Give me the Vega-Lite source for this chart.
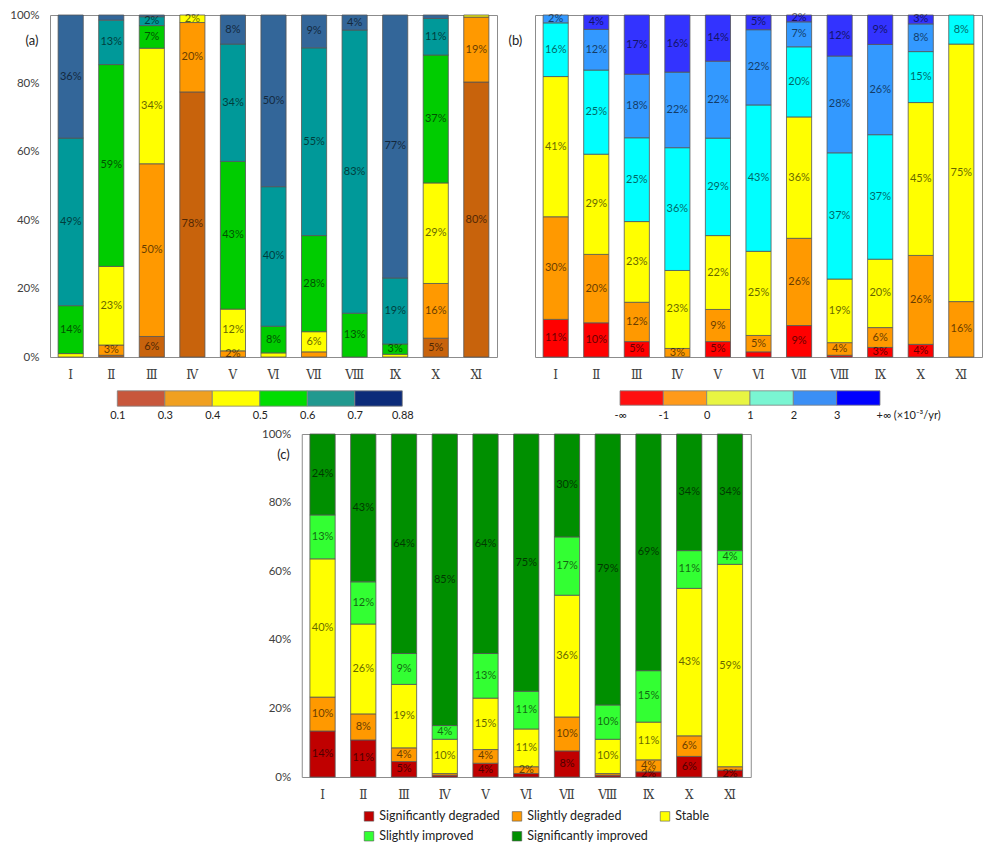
{
  "$schema": "https://vega.github.io/schema/vega-lite/v6.json",
  "background": "white",
  "autosize": "pad",
  "padding": {"left": 9, "top": 8, "right": 0, "bottom": 0},
  "center": true,
  "spacing": 7,
  "resolve": {"scale": {"color": "independent"}, "legend": {"color": "independent"}},
  "config": {
    "font": "Lato",
    "view": {"stroke": "#8c8c8c", "strokeWidth": 1},
    "axis": {"labelColor": "#404040", "labelFont": "Lato", "labelFontSize": 11.5, "domain": false, "ticks": false, "grid": false, "titleFont": "Lato", "titleFontSize": 13, "titleFontWeight": "normal", "titleColor": "#222"}
  },
  "datasets": {
    "a": [
      {"g":"Ⅰ","k":3,"v":1,"t":""},
      {"g":"Ⅰ","k":4,"v":14,"t":"14%"},
      {"g":"Ⅰ","k":5,"v":49,"t":"49%"},
      {"g":"Ⅰ","k":6,"v":36,"t":"36%"},
      {"g":"Ⅱ","k":1,"v":0.5,"t":""},
      {"g":"Ⅱ","k":2,"v":3,"t":"3%"},
      {"g":"Ⅱ","k":3,"v":23,"t":"23%"},
      {"g":"Ⅱ","k":4,"v":59,"t":"59%"},
      {"g":"Ⅱ","k":5,"v":13,"t":"13%"},
      {"g":"Ⅱ","k":6,"v":1.5,"t":""},
      {"g":"Ⅲ","k":1,"v":6,"t":"6%"},
      {"g":"Ⅲ","k":2,"v":50.5,"t":"50%"},
      {"g":"Ⅲ","k":3,"v":33.8,"t":"34%"},
      {"g":"Ⅲ","k":4,"v":6.6,"t":"7%"},
      {"g":"Ⅲ","k":5,"v":2.6,"t":"2%"},
      {"g":"Ⅲ","k":6,"v":0.5,"t":""},
      {"g":"Ⅳ","k":1,"v":77.5,"t":"78%"},
      {"g":"Ⅳ","k":2,"v":20.3,"t":"20%"},
      {"g":"Ⅳ","k":3,"v":2.2,"t":"2%"},
      {"g":"Ⅴ","k":2,"v":1.8,"t":"2%"},
      {"g":"Ⅴ","k":3,"v":12.2,"t":"12%"},
      {"g":"Ⅴ","k":4,"v":43.2,"t":"43%"},
      {"g":"Ⅴ","k":5,"v":34.3,"t":"34%"},
      {"g":"Ⅴ","k":6,"v":8.5,"t":"8%"},
      {"g":"Ⅵ","k":3,"v":1.2,"t":""},
      {"g":"Ⅵ","k":4,"v":7.8,"t":"8%"},
      {"g":"Ⅵ","k":5,"v":40.8,"t":"40%"},
      {"g":"Ⅵ","k":6,"v":50.2,"t":"50%"},
      {"g":"Ⅶ","k":2,"v":1.5,"t":""},
      {"g":"Ⅶ","k":3,"v":5.9,"t":"6%"},
      {"g":"Ⅶ","k":4,"v":28.1,"t":"28%"},
      {"g":"Ⅶ","k":5,"v":54.9,"t":"55%"},
      {"g":"Ⅶ","k":6,"v":9.6,"t":"9%"},
      {"g":"Ⅷ","k":4,"v":12.8,"t":"13%"},
      {"g":"Ⅷ","k":5,"v":82.8,"t":"83%"},
      {"g":"Ⅷ","k":6,"v":4.4,"t":"4%"},
      {"g":"Ⅸ","k":3,"v":0.8,"t":""},
      {"g":"Ⅸ","k":4,"v":3,"t":"3%"},
      {"g":"Ⅸ","k":5,"v":19.3,"t":"19%"},
      {"g":"Ⅸ","k":6,"v":76.9,"t":"77%"},
      {"g":"Ⅹ","k":1,"v":5.5,"t":"5%"},
      {"g":"Ⅹ","k":2,"v":16,"t":"16%"},
      {"g":"Ⅹ","k":3,"v":29.4,"t":"29%"},
      {"g":"Ⅹ","k":4,"v":37.4,"t":"37%"},
      {"g":"Ⅹ","k":5,"v":10.7,"t":"11%"},
      {"g":"Ⅹ","k":6,"v":1,"t":""},
      {"g":"Ⅺ","k":1,"v":80.4,"t":"80%"},
      {"g":"Ⅺ","k":2,"v":19,"t":"19%"},
      {"g":"Ⅺ","k":3,"v":0.6,"t":""}
    ],
    "b": [
      {"g":"Ⅰ","k":1,"v":11,"t":"11%"},
      {"g":"Ⅰ","k":2,"v":30,"t":"30%"},
      {"g":"Ⅰ","k":3,"v":41,"t":"41%"},
      {"g":"Ⅰ","k":4,"v":15.7,"t":"16%"},
      {"g":"Ⅰ","k":5,"v":2.3,"t":"2%"},
      {"g":"Ⅱ","k":1,"v":10,"t":"10%"},
      {"g":"Ⅱ","k":2,"v":20,"t":"20%"},
      {"g":"Ⅱ","k":3,"v":29.3,"t":"29%"},
      {"g":"Ⅱ","k":4,"v":24.6,"t":"25%"},
      {"g":"Ⅱ","k":5,"v":11.9,"t":"12%"},
      {"g":"Ⅱ","k":6,"v":4.2,"t":"4%"},
      {"g":"Ⅲ","k":1,"v":4.5,"t":"5%"},
      {"g":"Ⅲ","k":2,"v":11.5,"t":"12%"},
      {"g":"Ⅲ","k":3,"v":23.6,"t":"23%"},
      {"g":"Ⅲ","k":4,"v":24.5,"t":"25%"},
      {"g":"Ⅲ","k":5,"v":18.6,"t":"18%"},
      {"g":"Ⅲ","k":6,"v":17.3,"t":"17%"},
      {"g":"Ⅳ","k":2,"v":2.5,"t":"3%"},
      {"g":"Ⅳ","k":3,"v":22.8,"t":"23%"},
      {"g":"Ⅳ","k":4,"v":35.9,"t":"36%"},
      {"g":"Ⅳ","k":5,"v":22.1,"t":"22%"},
      {"g":"Ⅳ","k":6,"v":16.7,"t":"16%"},
      {"g":"Ⅴ","k":1,"v":4.5,"t":"5%"},
      {"g":"Ⅴ","k":2,"v":9.4,"t":"9%"},
      {"g":"Ⅴ","k":3,"v":21.6,"t":"22%"},
      {"g":"Ⅴ","k":4,"v":28.5,"t":"29%"},
      {"g":"Ⅴ","k":5,"v":22.5,"t":"22%"},
      {"g":"Ⅴ","k":6,"v":13.5,"t":"14%"},
      {"g":"Ⅵ","k":1,"v":1.5,"t":""},
      {"g":"Ⅵ","k":2,"v":4.8,"t":"5%"},
      {"g":"Ⅵ","k":3,"v":24.6,"t":"25%"},
      {"g":"Ⅵ","k":4,"v":42.8,"t":"43%"},
      {"g":"Ⅵ","k":5,"v":22,"t":"22%"},
      {"g":"Ⅵ","k":6,"v":4.3,"t":"5%"},
      {"g":"Ⅶ","k":1,"v":9.2,"t":"9%"},
      {"g":"Ⅶ","k":2,"v":25.5,"t":"26%"},
      {"g":"Ⅶ","k":3,"v":35.5,"t":"36%"},
      {"g":"Ⅶ","k":4,"v":20.5,"t":"20%"},
      {"g":"Ⅶ","k":5,"v":7.3,"t":"7%"},
      {"g":"Ⅶ","k":6,"v":2,"t":"2%"},
      {"g":"Ⅷ","k":1,"v":0.5,"t":""},
      {"g":"Ⅷ","k":2,"v":3.7,"t":"4%"},
      {"g":"Ⅷ","k":3,"v":18.6,"t":"19%"},
      {"g":"Ⅷ","k":4,"v":36.9,"t":"37%"},
      {"g":"Ⅷ","k":5,"v":28.3,"t":"28%"},
      {"g":"Ⅷ","k":6,"v":12,"t":"12%"},
      {"g":"Ⅸ","k":1,"v":2.8,"t":"3%"},
      {"g":"Ⅸ","k":2,"v":5.8,"t":"6%"},
      {"g":"Ⅸ","k":3,"v":20,"t":"20%"},
      {"g":"Ⅸ","k":4,"v":36.4,"t":"37%"},
      {"g":"Ⅸ","k":5,"v":26.4,"t":"26%"},
      {"g":"Ⅸ","k":6,"v":8.6,"t":"9%"},
      {"g":"Ⅹ","k":1,"v":3.7,"t":"4%"},
      {"g":"Ⅹ","k":2,"v":26,"t":"26%"},
      {"g":"Ⅹ","k":3,"v":44.7,"t":"45%"},
      {"g":"Ⅹ","k":4,"v":14.9,"t":"15%"},
      {"g":"Ⅹ","k":5,"v":8.1,"t":"8%"},
      {"g":"Ⅹ","k":6,"v":2.6,"t":"3%"},
      {"g":"Ⅺ","k":2,"v":16.2,"t":"16%"},
      {"g":"Ⅺ","k":3,"v":75.3,"t":"75%"},
      {"g":"Ⅺ","k":4,"v":8.5,"t":"8%"}
    ],
    "c": [
      {"g":"Ⅰ","k":1,"cat":"Significantly degraded","v":13.4,"t":"14%"},
      {"g":"Ⅰ","k":2,"cat":"Slightly degraded","v":9.9,"t":"10%"},
      {"g":"Ⅰ","k":3,"cat":"Stable","v":40.3,"t":"40%"},
      {"g":"Ⅰ","k":4,"cat":"Slightly improved","v":12.8,"t":"13%"},
      {"g":"Ⅰ","k":5,"cat":"Significantly improved","v":23.6,"t":"24%"},
      {"g":"Ⅱ","k":1,"cat":"Significantly degraded","v":10.8,"t":"11%"},
      {"g":"Ⅱ","k":2,"cat":"Slightly degraded","v":7.6,"t":"8%"},
      {"g":"Ⅱ","k":3,"cat":"Stable","v":26.2,"t":"26%"},
      {"g":"Ⅱ","k":4,"cat":"Slightly improved","v":12.3,"t":"12%"},
      {"g":"Ⅱ","k":5,"cat":"Significantly improved","v":43.1,"t":"43%"},
      {"g":"Ⅲ","k":1,"cat":"Significantly degraded","v":4.5,"t":"5%"},
      {"g":"Ⅲ","k":2,"cat":"Slightly degraded","v":4,"t":"4%"},
      {"g":"Ⅲ","k":3,"cat":"Stable","v":18.5,"t":"19%"},
      {"g":"Ⅲ","k":4,"cat":"Slightly improved","v":9,"t":"9%"},
      {"g":"Ⅲ","k":5,"cat":"Significantly improved","v":64,"t":"64%"},
      {"g":"Ⅳ","k":1,"cat":"Significantly degraded","v":0.5,"t":""},
      {"g":"Ⅳ","k":2,"cat":"Slightly degraded","v":0.5,"t":""},
      {"g":"Ⅳ","k":3,"cat":"Stable","v":10,"t":"10%"},
      {"g":"Ⅳ","k":4,"cat":"Slightly improved","v":4,"t":"4%"},
      {"g":"Ⅳ","k":5,"cat":"Significantly improved","v":85,"t":"85%"},
      {"g":"Ⅴ","k":1,"cat":"Significantly degraded","v":4,"t":"4%"},
      {"g":"Ⅴ","k":2,"cat":"Slightly degraded","v":4,"t":"4%"},
      {"g":"Ⅴ","k":3,"cat":"Stable","v":15,"t":"15%"},
      {"g":"Ⅴ","k":4,"cat":"Slightly improved","v":13,"t":"13%"},
      {"g":"Ⅴ","k":5,"cat":"Significantly improved","v":64,"t":"64%"},
      {"g":"Ⅵ","k":1,"cat":"Significantly degraded","v":1,"t":""},
      {"g":"Ⅵ","k":2,"cat":"Slightly degraded","v":2,"t":"2%"},
      {"g":"Ⅵ","k":3,"cat":"Stable","v":11,"t":"11%"},
      {"g":"Ⅵ","k":4,"cat":"Slightly improved","v":11,"t":"11%"},
      {"g":"Ⅵ","k":5,"cat":"Significantly improved","v":75,"t":"75%"},
      {"g":"Ⅶ","k":1,"cat":"Significantly degraded","v":7.6,"t":"8%"},
      {"g":"Ⅶ","k":2,"cat":"Slightly degraded","v":9.9,"t":"10%"},
      {"g":"Ⅶ","k":3,"cat":"Stable","v":35.5,"t":"36%"},
      {"g":"Ⅶ","k":4,"cat":"Slightly improved","v":17,"t":"17%"},
      {"g":"Ⅶ","k":5,"cat":"Significantly improved","v":30,"t":"30%"},
      {"g":"Ⅷ","k":1,"cat":"Significantly degraded","v":0.5,"t":""},
      {"g":"Ⅷ","k":2,"cat":"Slightly degraded","v":0.5,"t":""},
      {"g":"Ⅷ","k":3,"cat":"Stable","v":10,"t":"10%"},
      {"g":"Ⅷ","k":4,"cat":"Slightly improved","v":10,"t":"10%"},
      {"g":"Ⅷ","k":5,"cat":"Significantly improved","v":79,"t":"79%"},
      {"g":"Ⅸ","k":1,"cat":"Significantly degraded","v":1.5,"t":"2%"},
      {"g":"Ⅸ","k":2,"cat":"Slightly degraded","v":3.5,"t":"4%"},
      {"g":"Ⅸ","k":3,"cat":"Stable","v":11,"t":"11%"},
      {"g":"Ⅸ","k":4,"cat":"Slightly improved","v":15,"t":"15%"},
      {"g":"Ⅸ","k":5,"cat":"Significantly improved","v":69,"t":"69%"},
      {"g":"Ⅹ","k":1,"cat":"Significantly degraded","v":6,"t":"6%"},
      {"g":"Ⅹ","k":2,"cat":"Slightly degraded","v":6,"t":"6%"},
      {"g":"Ⅹ","k":3,"cat":"Stable","v":43,"t":"43%"},
      {"g":"Ⅹ","k":4,"cat":"Slightly improved","v":11,"t":"11%"},
      {"g":"Ⅹ","k":5,"cat":"Significantly improved","v":34,"t":"34%"},
      {"g":"Ⅺ","k":1,"cat":"Significantly degraded","v":2,"t":"2%"},
      {"g":"Ⅺ","k":2,"cat":"Slightly degraded","v":1,"t":""},
      {"g":"Ⅺ","k":3,"cat":"Stable","v":59,"t":"59%"},
      {"g":"Ⅺ","k":4,"cat":"Slightly improved","v":4,"t":"4%"},
      {"g":"Ⅺ","k":5,"cat":"Significantly improved","v":34,"t":"34%"}
    ],
    "seg": [
      {"i0":0,"i1":1},{"i0":1,"i1":2},{"i0":2,"i1":3},{"i0":3,"i1":4},{"i0":4,"i1":5},{"i0":5,"i1":6}
    ]
  },
  "vconcat": [
    {
      "hconcat": [
        {
          "spacing": 9,
          "resolve": {"scale": {"color": "independent"}, "legend": {"color": "independent"}},
          "vconcat": [
            {
              "width": 447, "height": 342,
              "data": {"name": "a"},
              "encoding": {
                "x": {"field": "g", "type": "nominal", "sort": ["Ⅰ","Ⅱ","Ⅲ","Ⅳ","Ⅴ","Ⅵ","Ⅶ","Ⅷ","Ⅸ","Ⅹ","Ⅺ"], "scale": {"paddingInner": 0.38, "paddingOuter": 0.2}, "axis": {"title": null, "labelAngle": 0, "labelFont": "DejaVu Serif", "labelFontSize": 12, "labelPadding": 12}},
                "y": {"field": "v", "type": "quantitative", "stack": "normalize", "scale": {"domain": [0, 1]}, "axis": {"title": "(a)", "titleAngle": 0, "titleAlign": "left", "titleBaseline": "middle", "titleX": -25, "titleY": 25, "format": ".0%", "values": [0, 0.2, 0.4, 0.6, 0.8, 1], "labelPadding": 11}},
                "order": {"field": "k", "type": "quantitative"}
              },
              "layer": [
                {"mark": {"type": "bar", "stroke": "#555555", "strokeWidth": 0.8},
                 "encoding": {"color": {"field": "k", "type": "ordinal", "scale": {"domain": [1,2,3,4,5,6], "range": ["#C8630C", "#FF9900", "#FFFF00", "#00CC00", "#009999", "#336699"]}, "legend": null}}},
                {"mark": {"type": "text", "fontSize": 11, "color": "#000000", "opacity": 0.6, "font": "Lato"},
                 "encoding": {"y": {"field": "v", "type": "quantitative", "stack": "normalize", "bandPosition": 0.5}, "detail": {"field": "k", "type": "ordinal"}, "text": {"field": "t"}}}
              ]
            },
            {
              "width": 447, "height": 17,
              "view": {"stroke": null},
              "data": {"name": "seg"},
              "mark": {"type": "bar", "stroke": "#808080", "strokeWidth": 0.8},
              "encoding": {
                "x": {"field": "i0", "type": "quantitative", "scale": {"domain": [-1.417, 7.994], "nice": false, "zero": false}, "axis": {"title": null, "values": [0,1,2,3,4,5,6], "labelExpr": "['0.1','0.3','0.4','0.5','0.6','0.7','0.88'][datum.value]", "labelPadding": 2, "labelFontSize": 11, "labelColor": "#222", "labelFlush": false, "labelOverlap": false}},
                "x2": {"field": "i1"},
                "color": {"field": "i0", "type": "ordinal", "scale": {"domain": [0,1,2,3,4,5], "range": ["#C8573C", "#F0A020", "#FFFF00", "#00DD00", "#21998F", "#0C2B7A"]}, "legend": null}
              }
            }
          ]
        },
        {
          "spacing": 9,
          "resolve": {"scale": {"color": "independent"}, "legend": {"color": "independent"}},
          "vconcat": [
            {
              "width": 447, "height": 342,
              "data": {"name": "b"},
              "encoding": {
                "x": {"field": "g", "type": "nominal", "sort": ["Ⅰ","Ⅱ","Ⅲ","Ⅳ","Ⅴ","Ⅵ","Ⅶ","Ⅷ","Ⅸ","Ⅹ","Ⅺ"], "scale": {"paddingInner": 0.38, "paddingOuter": 0.2}, "axis": {"title": null, "labelAngle": 0, "labelFont": "DejaVu Serif", "labelFontSize": 12, "labelPadding": 12}},
                "y": {"field": "v", "type": "quantitative", "stack": "normalize", "scale": {"domain": [0, 1]}, "axis": {"labels": false, "title": "(b)", "titleAngle": 0, "titleAlign": "left", "titleBaseline": "middle", "titleX": -27, "titleY": 25}},
                "order": {"field": "k", "type": "quantitative"}
              },
              "layer": [
                {"mark": {"type": "bar", "stroke": "#555555", "strokeWidth": 0.8},
                 "encoding": {"color": {"field": "k", "type": "ordinal", "scale": {"domain": [1,2,3,4,5,6], "range": ["#FF0000", "#FF9900", "#FFFF00", "#00FFFF", "#3399FF", "#3333FF"]}, "legend": null}}},
                {"mark": {"type": "text", "fontSize": 11, "color": "#000000", "opacity": 0.6, "font": "Lato"},
                 "encoding": {"y": {"field": "v", "type": "quantitative", "stack": "normalize", "bandPosition": 0.5}, "detail": {"field": "k", "type": "ordinal"}, "text": {"field": "t"}}}
              ]
            },
            {
              "width": 468, "height": 16,
              "view": {"stroke": null},
              "data": {"name": "seg"},
              "mark": {"type": "bar", "stroke": "#808080", "strokeWidth": 0.8},
              "encoding": {
                "x": {"field": "i0", "type": "quantitative", "scale": {"domain": [-1.9615, 8.838], "nice": false, "zero": false}, "axis": {"title": null, "values": [0,1,2,3,4,5,6], "labelExpr": "['-∞','-1','0','1','2','3','+∞ (×10⁻³/yr)'][datum.value]", "labelAlign": {"condition": {"test": "datum.value == 6", "value": "left"}, "value": "center"}, "labelOffset": {"condition": {"test": "datum.value == 6", "value": -4}, "value": 0}, "labelPadding": 3, "labelFontSize": 11, "labelColor": "#222", "labelFlush": false, "labelOverlap": false}},
                "x2": {"field": "i1"},
                "color": {"field": "i0", "type": "ordinal", "scale": {"domain": [0,1,2,3,4,5], "range": ["#FF1010", "#FF9A1A", "#E8F542", "#7AF5D2", "#3B8FF5", "#0000FF"]}, "legend": null}
              }
            }
          ]
        }
      ],
      "spacing": 9,
      "resolve": {"scale": {"color": "independent"}, "legend": {"color": "independent"}}
    },
    {
      "width": 449, "height": 343,
      "data": {"name": "c"},
      "encoding": {
        "x": {"field": "g", "type": "nominal", "sort": ["Ⅰ","Ⅱ","Ⅲ","Ⅳ","Ⅴ","Ⅵ","Ⅶ","Ⅷ","Ⅸ","Ⅹ","Ⅺ"], "scale": {"paddingInner": 0.38, "paddingOuter": 0.2}, "axis": {"title": null, "labelAngle": 0, "labelFont": "DejaVu Serif", "labelFontSize": 12, "labelPadding": 12}},
        "y": {"field": "v", "type": "quantitative", "stack": "normalize", "scale": {"domain": [0, 1]}, "axis": {"title": "(c)", "titleAngle": 0, "titleAlign": "left", "titleBaseline": "middle", "titleX": -25, "titleY": 20, "format": ".0%", "values": [0, 0.2, 0.4, 0.6, 0.8, 1], "labelPadding": 11}},
        "order": {"field": "k", "type": "quantitative"}
      },
      "layer": [
        {"mark": {"type": "bar", "stroke": "#555555", "strokeWidth": 0.8},
         "encoding": {"color": {"field": "cat", "type": "nominal", "scale": {"domain": ["Significantly degraded", "Slightly degraded", "Stable", "Slightly improved", "Significantly improved"], "range": ["#C00000", "#FF9900", "#FFFF00", "#33FF33", "#008F00"]},
           "legend": {"orient": "none", "legendX": 61, "legendY": 376, "direction": "horizontal", "columns": 3, "title": null, "symbolType": "square", "symbolSize": 90, "labelFontSize": 12.5, "labelColor": "#222", "labelFont": "Lato", "rowPadding": 7, "columnPadding": 10, "symbolStrokeColor": "#555", "symbolStrokeWidth": 0.6}}}},
        {"mark": {"type": "text", "fontSize": 11, "color": "#000000", "opacity": 0.6, "font": "Lato"},
         "encoding": {"y": {"field": "v", "type": "quantitative", "stack": "normalize", "bandPosition": 0.5}, "detail": {"field": "k", "type": "ordinal"}, "text": {"field": "t"}}}
      ]
    }
  ]
}
